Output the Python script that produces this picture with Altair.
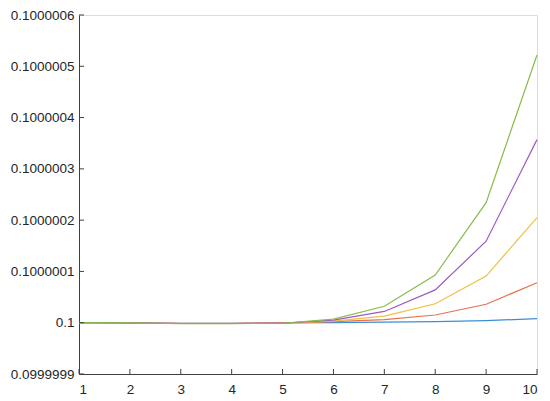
import altair as alt
import pandas as pd

x_vals = [1, 2, 3, 4, 5, 6, 7, 8, 9, 10]
series_names = ["s1", "s2", "s3", "s4", "s5"]
s1 = [0.1, 0.0999999995, 0.099999999, 0.099999999, 0.0999999995, 0.1, 0.100000001, 0.100000002, 0.100000004, 0.100000008]
s2 = [0.1, 0.0999999995, 0.099999999, 0.099999999, 0.0999999995, 0.100000002, 0.100000006, 0.100000015, 0.100000036, 0.100000078]
s3 = [0.1, 0.0999999995, 0.0999999985, 0.0999999985, 0.099999999, 0.100000003, 0.100000013, 0.100000037, 0.100000091, 0.100000205]
s4 = [0.1, 0.0999999995, 0.0999999985, 0.0999999985, 0.099999999, 0.100000005, 0.100000022, 0.100000064, 0.100000159, 0.100000357]
s5 = [0.1, 0.0999999995, 0.099999998, 0.099999998, 0.099999999, 0.100000007, 0.100000032, 0.100000093, 0.100000234, 0.100000522]
colors = ["#3a8ed6", "#e5714d", "#f1bd45", "#9d5bbd", "#87bd4c"]
y_ticks = [0.0999999, 0.1, 0.1000001, 0.1000002, 0.1000003, 0.1000004, 0.1000005, 0.1000006]
x_ticks = [1, 2, 3, 4, 5, 6, 7, 8, 9, 10]

rows = []
for name, vals in zip(series_names, [s1, s2, s3, s4, s5]):
    for xv, yv in zip(x_vals, vals):
        rows.append({"x": xv, "y": yv, "s": name})
df = pd.DataFrame(rows)

W, H = 458, 359
FONT = "Liberation Sans"
AX = "#404040"

xscale = alt.Scale(domain=[1, 10], nice=False, zero=False)
yscale = alt.Scale(domain=[0.0999999, 0.1000006], nice=False, zero=False)

lines = alt.Chart(df).mark_line(strokeWidth=1.2).encode(
    x=alt.X("x:Q", scale=xscale,
            axis=alt.Axis(values=x_ticks, format="d", title=None, grid=False,
                          tickSize=0, labelPadding=8, domainColor=AX,
                          labelColor="#262626", labelFont=FONT, labelFontSize=13.5)),
    y=alt.Y("y:Q", scale=yscale,
            axis=alt.Axis(values=y_ticks, format=".7~f", title=None, grid=False,
                          tickSize=0, labelPadding=5, domainColor=AX,
                          labelColor="#262626", labelFont=FONT, labelFontSize=13.5)),
    color=alt.Color("s:N", scale=alt.Scale(domain=series_names, range=colors), legend=None),
)

ytick_df = pd.DataFrame({"y": y_ticks})
xtick_df = pd.DataFrame({"x": x_ticks})

yticks = alt.Chart(ytick_df).mark_rule(color=AX, strokeWidth=1).encode(
    y=alt.Y("y:Q", scale=yscale), x=alt.value(0), x2=alt.value(5)
)
xticks = alt.Chart(xtick_df).mark_rule(color=AX, strokeWidth=1).encode(
    x=alt.X("x:Q", scale=xscale), y=alt.value(H), y2=alt.value(H - 5)
)

chart = alt.layer(lines, yticks, xticks).properties(
    width=W, height=H,
    autosize=alt.AutoSizeParams(type="none"),
    padding={"left": 71, "top": 7, "right": 5, "bottom": 26},
).configure_view(stroke=None).configure(background="white")

chart.save("out.html", embed_options={"renderer": "svg", "actions": False})
